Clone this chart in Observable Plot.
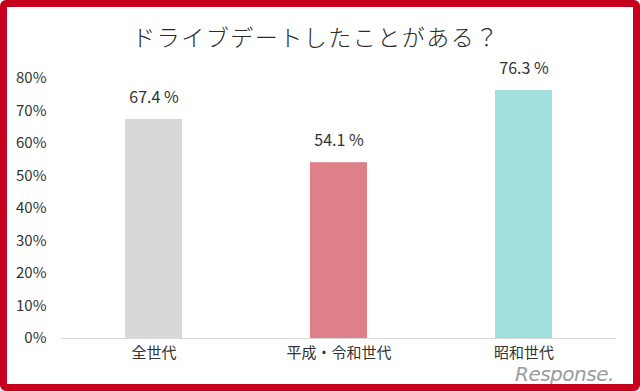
<!DOCTYPE html>
<html><head><meta charset="utf-8">
<script src="https://cdn.jsdelivr.net/npm/d3@7"></script>
<script src="https://cdn.jsdelivr.net/npm/@observablehq/plot@0.6"></script>
<style>
html,body{margin:0;padding:0;background:#fff;}
#frame{position:relative;width:640px;height:391px;box-sizing:border-box;border:7px solid #c5001f;border-radius:6px;background:#fff;overflow:hidden;font-family:"Noto Sans CJK JP","Noto Sans",sans-serif;}
#title{position:absolute;left:-4px;top:12px;width:626px;text-align:center;font-size:23px;font-weight:300;color:#2a2a2a;letter-spacing:1.5px;}
#chart{position:absolute;left:0;top:46px;}
#wm{position:absolute;left:508px;top:357px;line-height:1;font-family:"DejaVu Sans",sans-serif;font-size:20px;font-style:italic;color:#8a8a8a;opacity:0.85;letter-spacing:-0.5px;}
</style></head>
<body>
<div id="frame">
  <div id="title">ドライブデートしたことがある？</div>
  <div id="chart"></div>
  <div id="wm">Response.</div>
</div>
<script>
const categories = ["全世代", "平成・令和世代", "昭和世代"];
const values = [67.4, 54.1, 76.3];
const colors = ["#d8d8d8", "#de7f8a", "#a2e0de"];
const yTicks = [0, 10, 20, 30, 40, 50, 60, 70, 80];

const data = categories.map((c, i) => ({category: c, value: values[i], color: colors[i]}));

const chart = Plot.plot({
  width: 626,
  height: 327,
  marginTop: 25,
  marginBottom: 42,
  marginLeft: 54,
  marginRight: 17,
  style: {fontFamily: '"Noto Sans CJK JP","Noto Sans",sans-serif', fontSize: "15px", color: "#333", background: "transparent"},
  x: {domain: categories, paddingInner: 0.69, paddingOuter: 0.345, label: null, tickSize: 0, tickPadding: 9},
  y: {domain: [0, 80], ticks: yTicks, tickFormat: d => d + "%", label: null, tickSize: 0, tickPadding: 15},
  marks: [
    Plot.barY(data, {x: "category", y: "value", fill: "color"}),
    Plot.ruleY([0], {stroke: "#d9d9d9", strokeWidth: 1.2}),
    Plot.text(data, {x: "category", y: "value", text: d => d.value.toFixed(1) + " %", dy: -22, fontSize: 16, fill: "#333"})
  ]
});
document.getElementById("chart").appendChild(chart);
</script>
</body></html>
